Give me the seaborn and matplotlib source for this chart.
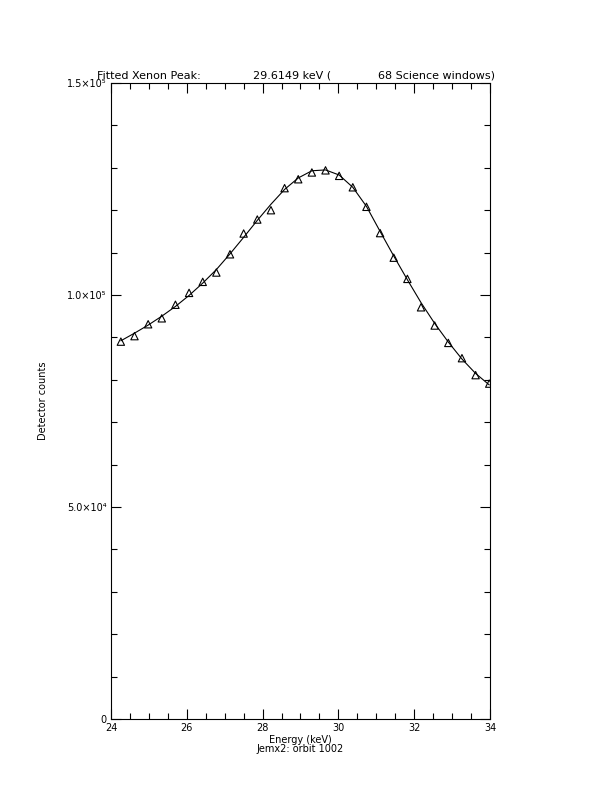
import numpy as np
import pandas as pd
import matplotlib
matplotlib.use("Agg")
import matplotlib.pyplot as plt
import seaborn as sns
from matplotlib.ticker import MultipleLocator

##### data #####
energy = [24.26, 24.62, 24.98, 25.34, 25.70, 26.06, 26.42, 26.78, 27.14, 27.50,
          27.86, 28.22, 28.58, 28.94, 29.30, 29.66, 30.02, 30.38, 30.74, 31.10,
          31.46, 31.82, 32.18, 32.54, 32.90, 33.26, 33.62, 33.98]
counts = [89.0, 90.3, 93.1, 94.5, 97.7, 100.5, 103.1, 105.3, 109.6, 114.5,
          117.8, 120.0, 125.2, 127.3, 128.9, 129.4, 128.1, 125.4, 120.8, 114.6,
          108.8, 103.8, 97.1, 92.8, 88.7, 85.1, 81.1, 79.1]   # x1000
fit = [89.2, 91.0, 92.9, 95.0, 97.3, 99.9, 102.8, 106.0, 109.7, 113.6,
       117.6, 121.4, 124.9, 127.6, 129.3, 129.5, 128.3, 125.4, 120.9, 115.0,
       109.2, 103.6, 98.2, 93.3, 88.9, 84.9, 81.5, 78.8]         # x1000

ytick_vals = [0, 50000, 100000, 150000]
ytick_labels = ["0", "5.0×10⁴", "1.0×10⁵", "1.5×10⁵"]
xtick_vals = [24, 26, 28, 30, 32, 34]

df = pd.DataFrame({"energy": energy,
                   "counts": np.array(counts) * 1000,
                   "fit": np.array(fit) * 1000})

sns.set_style("ticks")
plt.rcParams["font.family"] = ["DejaVu Sans"]
plt.rcParams["text.color"] = "black"
plt.rcParams["axes.labelcolor"] = "black"
plt.rcParams["xtick.color"] = "black"
plt.rcParams["ytick.color"] = "black"

fig = plt.figure(figsize=(6.12, 7.92), dpi=100)
ax = fig.add_axes([111 / 612, 1 - 719 / 792, 379 / 612, 636 / 792])

sns.lineplot(data=df, x="energy", y="fit", color="black", linewidth=0.8, ax=ax)
sns.scatterplot(data=df, x="energy", y="counts", marker="^", s=28,
                facecolors="none", edgecolor="black", linewidth=0.8, ax=ax)

ax.set_xlim(24, 34)
ax.set_ylim(0, 150000)
ax.set_xticks(xtick_vals)
ax.set_xticklabels([str(v) for v in xtick_vals])
ax.set_yticks(ytick_vals)
ax.set_yticklabels(ytick_labels)
ax.xaxis.set_minor_locator(MultipleLocator(0.5))
ax.yaxis.set_minor_locator(MultipleLocator(10000))
ax.tick_params(which="both", direction="in", top=True, right=True,
               width=0.8, labelsize=7, pad=3, color="black", labelcolor="black")
ax.tick_params(which="major", length=7)
ax.tick_params(which="minor", length=4)
for s in ax.spines.values():
    s.set_linewidth(0.8)
    s.set_color("black")

ax.set_xlabel("Energy (keV)\nJemx2: orbit 1002", fontsize=7, labelpad=1,
              linespacing=0.95, color="black")
ax.set_ylabel("Detector counts", fontsize=7, labelpad=14, color="black")

# title pieces
fig.text(97 / 612, 1 - 76 / 792, "Fitted Xenon Peak:", fontsize=8, va="center", color="black")
fig.text(253 / 612, 1 - 76 / 792, "29.6149 keV (", fontsize=8, va="center", color="black")
fig.text(378 / 612, 1 - 76 / 792, "68 Science windows)", fontsize=8, va="center", color="black")

fig.savefig("out.png", dpi=100)
